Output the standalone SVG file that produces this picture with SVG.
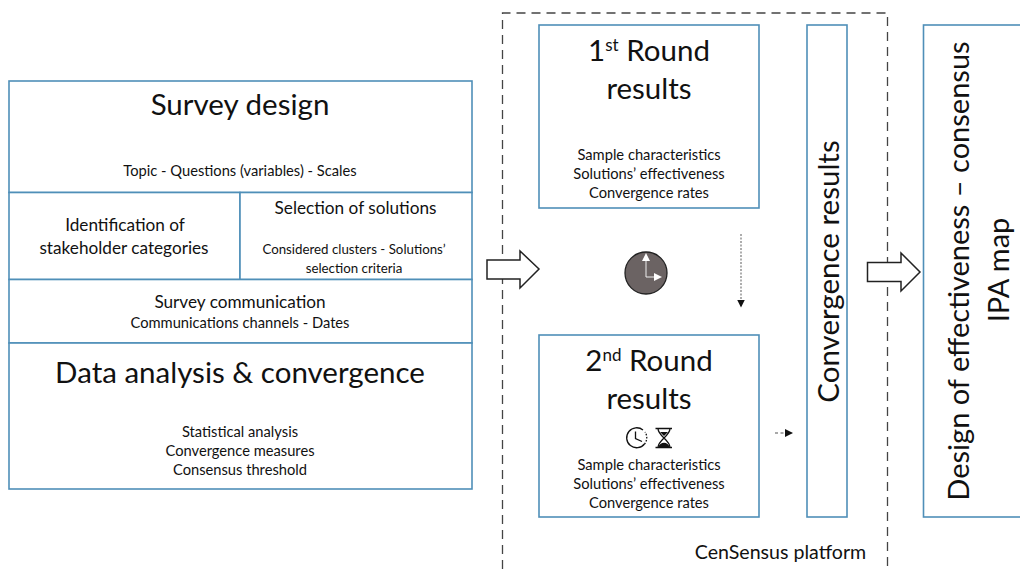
<svg xmlns="http://www.w3.org/2000/svg" width="1020" height="569" viewBox="0 0 1020 569">
<style>
text{font-family:Lato,"Open Sans",sans-serif;fill:#111;text-anchor:middle}
.b{fill:#fff;stroke:#4f8fb8;stroke-width:1.6}
.s{font-size:14.7px}
.t{font-size:13.3px}
.m{font-size:17.2px}
.p{font-size:19.6px}
.l{font-size:29.5px}
.a{fill:#fff;stroke:#222;stroke-width:1.5}
.d{fill:none;stroke:#444;stroke-width:1.3;stroke-dasharray:9 6}
.sup{font-size:17px}
</style>
<defs><marker id="ah" markerWidth="10" markerHeight="10" refX="7" refY="4" orient="auto" markerUnits="userSpaceOnUse"><path d="M0 0L8 4L0 8Z" fill="#111"/></marker></defs>
<g id="platform"><path class="d" d="M502.500 569V13H887.500V569"/><text class="p" x="780.500" y="559">CenSensus platform</text></g>
<g id="survey-design"><rect class="b" x="9" y="81" width="463" height="111.500"/><text class="l" x="240" y="115">Survey design</text><text class="s" x="240" y="176">Topic - Questions (variables) - Scales</text></g>
<g id="stakeholders"><rect class="b" x="9" y="192.500" width="231" height="87"/><text class="m" x="125" y="231">Identification of</text><text class="m" x="124" y="254">stakeholder categories</text></g>
<g id="solutions"><rect class="b" x="240" y="192.500" width="232" height="87"/><text class="m" x="355.500" y="214">Selection of solutions</text><text class="t" x="354" y="254">Considered clusters - Solutions’</text><text class="t" x="354" y="273">selection criteria</text></g>
<g id="communication"><rect class="b" x="9" y="279.500" width="463" height="63.500"/><text class="m" x="240" y="308">Survey communication</text><text class="s" x="240" y="328">Communications channels - Dates</text></g>
<g id="analysis"><rect class="b" x="9" y="343" width="463" height="146"/><text class="l" x="240" y="383">Data analysis &amp; convergence</text><text class="s" x="240" y="437">Statistical analysis</text><text class="s" x="240" y="456">Convergence measures</text><text class="s" x="240" y="475">Consensus threshold</text></g>
<g id="round1"><rect class="b" x="539" y="25" width="220" height="183"/><text class="l" x="649" y="61">1<tspan class="sup" dy="-10">st</tspan><tspan dy="10"> Round</tspan></text><text class="l" x="649" y="99">results</text><text class="s" x="649" y="160">Sample characteristics</text><text class="s" x="649" y="179">Solutions’ effectiveness</text><text class="s" x="649" y="198">Convergence rates</text></g>
<g id="clock"><circle cx="646" cy="273" r="21" fill="#6b6363" stroke="#222" stroke-width="1.3"/><path d="M646 258V277H655" fill="none" stroke="#eee" stroke-width="1"/><path d="M642 261L646 253L650 261ZM654 273L662 277L654 281Z" fill="#fff"/></g>
<g id="round2"><rect class="b" x="539" y="335" width="220" height="182"/><text class="l" x="649" y="371">2<tspan class="sup" dy="-10">nd</tspan><tspan dy="10"> Round</tspan></text><text class="l" x="649" y="409">results</text>
<g fill="none" stroke="#111" stroke-width="1.300"><path d="M643 430A10 10 0 1 0 644.500 444"/><path d="M644.500 444A10 10 0 0 0 645 432" stroke-dasharray="1.500 1.500"/><path d="M635.500 431.500V438.500L642 441.500"/><path d="M655.500 428.500H672M655.500 447.500H672M658 428.500C658 436 670 440 670 447.500M670 428.500C670 436 658 440 658 447.500"/></g><path d="M658 447.500C660 441 668 441 670 447.500ZM660 432H668L664 436Z" fill="#111"/>
<text class="s" x="649" y="470">Sample characteristics</text><text class="s" x="649" y="489">Solutions’ effectiveness</text><text class="s" x="649" y="508">Convergence rates</text></g>
<g id="convergence"><rect class="b" x="807" y="25" width="40" height="492"/><text class="l" transform="translate(838.500 271.500) rotate(-90)">Convergence results</text></g>
<g id="ipa"><rect class="b" x="923.500" y="25" width="100" height="492"/><text class="l" style="font-size:29px" transform="translate(969 271) rotate(-90)">Design of effectiveness – consensus</text><text class="l" style="font-size:29px" transform="translate(1009 270) rotate(-90)">IPA map</text></g>
<g id="connectors">
<path class="a" d="M487 260H520V251L539 269L520 288V279H487Z"/>
<path class="a" d="M867.500 262.500H901V253L920 272L901 291V281.500H867.500Z"/>
<path d="M741 234V306.500" fill="none" stroke="#777" stroke-width="1.200" stroke-dasharray="2 1.500" marker-end="url(#ah)"/>
<path d="M775 433H792" fill="none" stroke="#555" stroke-width="1.200" stroke-dasharray="3 2.500" marker-end="url(#ah)"/>
</g>
</svg>
